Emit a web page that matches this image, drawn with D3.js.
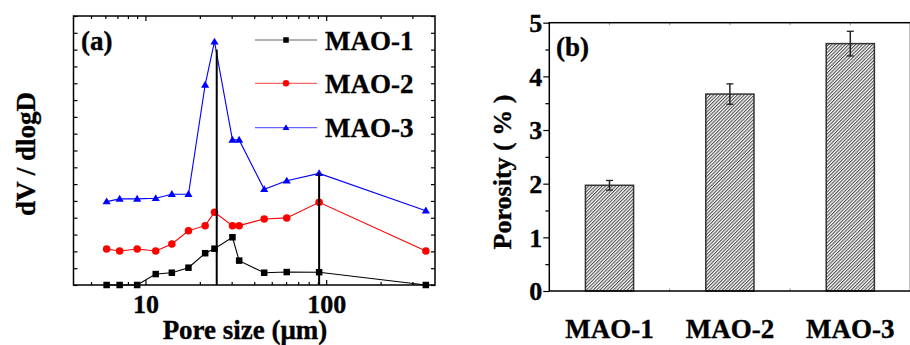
<!DOCTYPE html>
<html>
<head>
<meta charset="utf-8">
<script src="https://cdn.jsdelivr.net/npm/d3@7"></script>
<style>
  body { margin: 0; background: #fff; }
</style>
</head>
<body>
<svg id="chart" width="910" height="345"></svg>
<script>
// Pore size distribution (panel a)
const poreSizes = [6.1, 7.2, 9.0, 11.4, 14.0, 17.3, 21.4, 24.1, 30.3, 33.0, 45.4, 60.5, 91.4, 356];
const mao1 = [0, 0, 0, 0.65, 0.73, 1.03, 1.89, 2.16, 2.84, 1.45, 0.73, 0.77, 0.76, 0];
const mao2 = [2.14, 2.02, 2.14, 2.02, 2.44, 3.23, 3.53, 4.32, 3.53, 3.53, 3.93, 3.99, 4.92, 2.02];
const mao3 = [4.96, 5.12, 5.12, 5.16, 5.40, 5.40, 11.90, 14.47, 8.63, 8.63, 5.69, 6.20, 6.64, 4.42];
const seriesNames = ["MAO-1", "MAO-2", "MAO-3"];
const seriesColors = ["#000000", "#ff0000", "#0000ff"];
const seriesMarkers = ["square", "circle", "triangle"];
const peakSizes = [24.8, 91.4];
const peakHeights = [14.0, 6.64];
const sizeTicks = [10, 100];

// Porosity (panel b)
const samples = ["MAO-1", "MAO-2", "MAO-3"];
const porosity = [1.97, 3.67, 4.61];
const porosityErr = [0.09, 0.19, 0.23];
const porosityTicks = [0, 1, 2, 3, 4, 5];

const SERIF = "'Liberation Serif', 'Times New Roman', Times, 'DejaVu Serif', serif";

const svg = d3.select("#chart");
const defs = svg.append("defs");

function label(sel, size) {
  return sel.attr("font-family", SERIF).attr("font-weight", "bold")
    .attr("font-size", size).attr("fill", "#000")
    .attr("stroke", "#000").attr("stroke-width", 0.35)
    .style("font-family", SERIF).style("font-weight", "bold").style("font-size", size + "px");
}

// ---------- panel a ----------
const A = { left: 73.5, right: 435, top: 16, bottom: 285 };
const xA = d3.scaleLog().domain([4, 400]).range([A.left, A.right]);
const yA = d3.scaleLinear().domain([0, 16]).range([A.bottom, A.top]);

const minorSizes = [];
[1, 10, 100].forEach(dec => {
  for (let k = 2; k <= 9; k++) {
    const v = k * dec;
    if (v > 4 && v < 400 && !sizeTicks.includes(v)) minorSizes.push(v);
  }
});

const gA = svg.append("g");

function styleAxis(g) {
  g.select(".domain").remove();
  g.selectAll(".tick line").attr("stroke", "#000").attr("stroke-width", 1.2);
}

// bottom and top axes (inward ticks)
gA.append("g").attr("transform", `translate(0,${A.bottom})`)
  .call(d3.axisBottom(xA).tickValues(minorSizes).tickSize(-3).tickFormat(""))
  .call(styleAxis);
const xMajor = gA.append("g").attr("transform", `translate(0,${A.bottom})`)
  .call(d3.axisBottom(xA).tickValues(sizeTicks).tickSize(-5).tickFormat(d3.format("d")))
  .call(styleAxis);
xMajor.selectAll("text").attr("y", 28).attr("dy", 0).call(label, 26);

gA.append("g").attr("transform", `translate(0,${A.top})`)
  .call(d3.axisTop(xA).tickValues(minorSizes).tickSize(-3).tickFormat(""))
  .call(styleAxis);
gA.append("g").attr("transform", `translate(0,${A.top})`)
  .call(d3.axisTop(xA).tickValues(sizeTicks).tickSize(-5).tickFormat(""))
  .call(styleAxis);

// left and right axes (inward ticks, no labels)
gA.append("g").attr("transform", `translate(${A.left},0)`)
  .call(d3.axisLeft(yA).ticks(16).tickSize(-4).tickFormat(""))
  .call(styleAxis);
gA.append("g").attr("transform", `translate(${A.right},0)`)
  .call(d3.axisRight(yA).ticks(16).tickSize(-4).tickFormat(""))
  .call(styleAxis);

gA.append("rect")
  .attr("x", A.left).attr("y", A.top)
  .attr("width", A.right - A.left).attr("height", A.bottom - A.top)
  .attr("fill", "none").attr("stroke", "#000").attr("stroke-width", 1.5);

function drawMarker(sel, type, color, size) {
  if (type === "square") {
    sel.append("rect").attr("x", -size / 2).attr("y", -size / 2)
      .attr("width", size).attr("height", size).attr("fill", color);
  } else if (type === "circle") {
    sel.append("circle").attr("r", size / 2 + 0.5).attr("fill", color);
  } else {
    const w = size * 1.25, h = size * 1.05;
    sel.append("path")
      .attr("d", `M0,${-h * 0.6}L${w / 2},${h * 0.4}L${-w / 2},${h * 0.4}Z`)
      .attr("fill", color);
  }
}

const seriesData = [mao1, mao2, mao3];
const line = d3.line().x(d => xA(d[0])).y(d => yA(d[1]));

seriesData.forEach((vals, i) => {
  const pts = poreSizes.map((s, j) => [s, vals[j]]);
  gA.append("path").datum(pts)
    .attr("d", line).attr("fill", "none")
    .attr("stroke", seriesColors[i]).attr("stroke-width", 1.1);
  gA.selectAll(null).data(pts).enter().append("g")
    .attr("transform", d => `translate(${xA(d[0])},${yA(d[1])})`)
    .each(function () { drawMarker(d3.select(this), seriesMarkers[i], seriesColors[i], 6.5); });
});

// peak drop lines
peakSizes.forEach((s, i) => {
  gA.append("line")
    .attr("x1", xA(s)).attr("x2", xA(s))
    .attr("y1", yA(0)).attr("y2", yA(peakHeights[i]))
    .attr("stroke", "#000").attr("stroke-width", 2);
});

// legend
const legendY = [40, 83.3, 127.7];
seriesNames.forEach((name, i) => {
  const lg = gA.append("g").attr("transform", `translate(0,${legendY[i]})`);
  lg.append("line").attr("x1", 255).attr("x2", 317)
    .attr("stroke", seriesColors[i]).attr("stroke-opacity", 0.6).attr("stroke-width", 1.2);
  const m = lg.append("g").attr("transform", "translate(286,0)");
  drawMarker(m, seriesMarkers[i], seriesColors[i], 5.5);
  lg.append("text").attr("x", 325).attr("y", 9.6).call(label, 27).text(name);
});

gA.append("text").attr("x", 81).attr("y", 50).call(label, 27).text("(a)");
gA.append("text").attr("x", 245).attr("y", 339).attr("text-anchor", "middle")
  .call(label, 27).text("Pore size (μm)");
gA.append("text").attr("transform", "translate(35,154) rotate(-90)")
  .attr("text-anchor", "middle").call(label, 27).text("dV / dlogD");

// ---------- panel b ----------
const B = { left: 549.3, right: 910.5, top: 22.7, bottom: 291 };
const xB = d3.scaleBand().domain(samples).range([B.left, B.right]).paddingInner(0.6).paddingOuter(0.3);
const yB = d3.scaleLinear().domain([0, 5]).range([B.bottom, B.top]);

const pat = defs.append("pattern").attr("id", "hatch")
  .attr("patternUnits", "userSpaceOnUse").attr("width", 2.4).attr("height", 10)
  .attr("patternTransform", "rotate(45)");
pat.append("rect").attr("width", 2.4).attr("height", 10).attr("fill", "#fff");
pat.append("line").attr("x1", 0.6).attr("x2", 0.6).attr("y1", 0).attr("y2", 10)
  .attr("stroke", "#2a2a2a").attr("stroke-width", 0.9);

const gB = svg.append("g");

gB.selectAll(".bar").data(samples).enter().append("rect")
  .attr("x", d => xB(d)).attr("width", xB.bandwidth())
  .attr("y", (d, i) => yB(porosity[i]))
  .attr("height", (d, i) => yB(0) - yB(porosity[i]))
  .attr("fill", "url(#hatch)").attr("stroke", "#333").attr("stroke-width", 1.5);

// error bars
samples.forEach((s, i) => {
  const cx = xB(s) + xB.bandwidth() / 2;
  const y1 = yB(porosity[i] + porosityErr[i]);
  const y0 = yB(porosity[i] - porosityErr[i]);
  gB.append("line").attr("x1", cx).attr("x2", cx).attr("y1", y1).attr("y2", y0)
    .attr("stroke", "#222").attr("stroke-width", 1.5);
  [y1, y0].forEach(y => gB.append("line").attr("x1", cx - 3.5).attr("x2", cx + 3.5)
    .attr("y1", y).attr("y2", y).attr("stroke", "#222").attr("stroke-width", 1.3));
});

// y axis (outward ticks)
const yAxisB = gB.append("g").attr("transform", `translate(${B.left},0)`)
  .call(d3.axisLeft(yB).tickValues(porosityTicks).tickSize(6).tickPadding(1).tickFormat(d3.format("d")));
yAxisB.select(".domain").remove();
yAxisB.selectAll(".tick line").attr("stroke", "#000").attr("stroke-width", 1.2);
yAxisB.selectAll("text").attr("dy", "0.34em").call(label, 26);
const yMinorB = gB.append("g").attr("transform", `translate(${B.left},0)`)
  .call(d3.axisLeft(yB).tickValues(porosityTicks.slice(0, -1).map(v => v + 0.5)).tickSize(4).tickFormat(""));
yMinorB.select(".domain").remove();
yMinorB.selectAll(".tick line").attr("stroke", "#000").attr("stroke-width", 1.2);

// small band ticks on top and bottom
const bandEdges = samples.slice(1).map(s => xB(s) - xB.step() * xB.paddingInner() / 2);
const bandCenters = samples.map(s => xB(s) + xB.bandwidth() / 2);
bandCenters.concat(bandEdges).forEach(x => {
  gB.append("line").attr("x1", x).attr("x2", x).attr("y1", B.top).attr("y2", B.top + 2.5)
    .attr("stroke", "#999").attr("stroke-width", 1);
});
bandEdges.forEach(x => {
  gB.append("line").attr("x1", x).attr("x2", x).attr("y1", B.bottom).attr("y2", B.bottom - 2.5)
    .attr("stroke", "#999").attr("stroke-width", 1);
});

// frame lines
gB.append("rect").attr("x", B.left).attr("y", B.top)
  .attr("width", B.right - B.left).attr("height", B.bottom - B.top)
  .attr("fill", "none").attr("stroke", "#000").attr("stroke-width", 1.5);

// category labels
gB.selectAll(".cat").data(samples).enter().append("text")
  .attr("x", d => xB(d) + xB.bandwidth() / 2).attr("y", 338)
  .attr("text-anchor", "middle").call(label, 27).text(d => d);

gB.append("text").attr("x", 556).attr("y", 56).call(label, 27).text("(b)");
gB.append("text").attr("transform", "translate(511,172) rotate(-90)")
  .attr("text-anchor", "middle").call(label, 26).text("Porosity ( % )");
</script>
</body>
</html>
